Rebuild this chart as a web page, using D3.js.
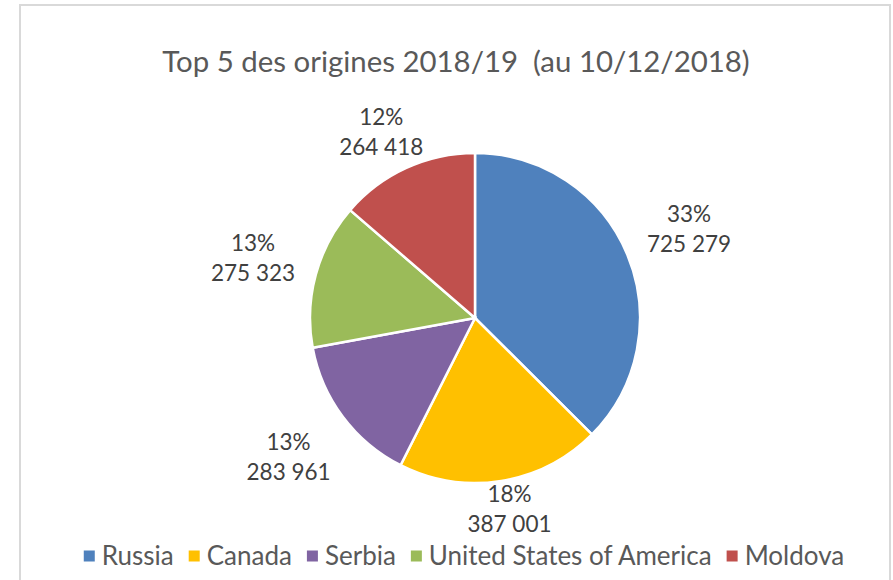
<!DOCTYPE html>
<html>
<head>
<meta charset="utf-8">
<script src="https://cdn.jsdelivr.net/npm/d3@7"></script>
<style>
  body { margin: 0; background: #fff; }
  text { font-family: Lato, "Open Sans", sans-serif; }
</style>
</head>
<body>
<div id="chart"></div>
<script>
// Top 5 des origines - camembert

const countries = ["Russia", "Canada", "Serbia", "United States of America", "Moldova"];
const visitors = [725279, 387001, 283961, 275323, 264418];
const shares = [33, 18, 13, 13, 12];   // % du total (toutes origines)
const colors = ["#4F81BD", "#FFC000", "#8064A2", "#9BBB59", "#C0504D"];
const title = "Top 5 des origines 2018/19  (au 10/12/2018)";

const width = 893, height = 580;
const cx = 475, cy = 318, radius = 165;
const plotTop = 103, plotBottom = 537;

const svg = d3.select("#chart")
  .append("svg")
  .attr("width", width)
  .attr("height", height);

// cadre
svg.append("path")
  .attr("d", `M20,${height} V5 H890 V${height}`)
  .attr("fill", "none")
  .attr("stroke", "#d9d9d9")
  .attr("stroke-width", 2);

// titre
svg.append("text")
  .attr("x", 456)
  .attr("y", 72)
  .attr("text-anchor", "middle")
  .style("white-space", "pre")
  .style("font-size", "29.4px")
  .style("fill", "#595959")
  .text(title);

const data = countries.map((c, i) => ({name: c, value: visitors[i], share: shares[i], color: colors[i]}));

const pie = d3.pie().sort(null).value(d => d.value);
const arc = d3.arc().innerRadius(0).outerRadius(radius);

const g = svg.append("g").attr("transform", `translate(${cx},${cy})`);

g.selectAll("path")
  .data(pie(data))
  .join("path")
    .attr("d", arc)
    .attr("fill", d => d.data.color)
    .attr("stroke", "#fff")
    .attr("stroke-width", 2.5);

// etiquettes a l'exterieur (best fit)
const fmt = n => d3.format(",")(n).replace(/,/g, " ");
const labelSize = 22.5, lineGap = 30;

const labels = g.selectAll("g.lbl")
  .data(pie(data))
  .join("g")
    .attr("class", "lbl");

labels.each(function(d) {
  const sel = d3.select(this);
  const t = sel.append("text")
    .attr("text-anchor", "middle")
    .style("font-size", labelSize + "px")
    .style("fill", "#404040");
  t.append("tspan").attr("x", 0).attr("y", -lineGap / 2 + 8).text(d.data.share + "%");
  t.append("tspan").attr("x", 0).attr("y", lineGap / 2 + 8).text(fmt(d.data.value));

  const bb = t.node().getBBox();
  const hw = bb.width / 2, hh = bb.height / 2;
  const a = (d.startAngle + d.endAngle) / 2;
  const s = Math.sin(a), c = -Math.cos(a);
  const dist = radius + 17 + Math.abs(s) * hw + Math.abs(c) * hh;
  let x = s * dist, y = c * dist;
  // garder dans la zone de trace
  y = Math.max(plotTop - cy + hh, Math.min(y, plotBottom - cy - hh));
  sel.attr("transform", `translate(${x},${y})`);
});

// legende
const legend = svg.append("g");
let lx = 0;
const items = legend.selectAll("g")
  .data(data)
  .join("g");
items.each(function(d) {
  const it = d3.select(this);
  it.append("rect")
    .attr("x", 0).attr("y", -5.5)
    .attr("width", 11).attr("height", 11)
    .attr("fill", d.color);
  const t = it.append("text")
    .attr("x", 18).attr("y", 9)
    .style("font-size", "26px")
    .style("fill", "#595959")
    .text(d.name);
  it.attr("transform", `translate(${lx},0)`);
  lx += 18 + t.node().getComputedTextLength() + 15;
});
const legendW = lx - 15;
legend.attr("transform", `translate(${464 - legendW / 2},556)`);
</script>
</body>
</html>
